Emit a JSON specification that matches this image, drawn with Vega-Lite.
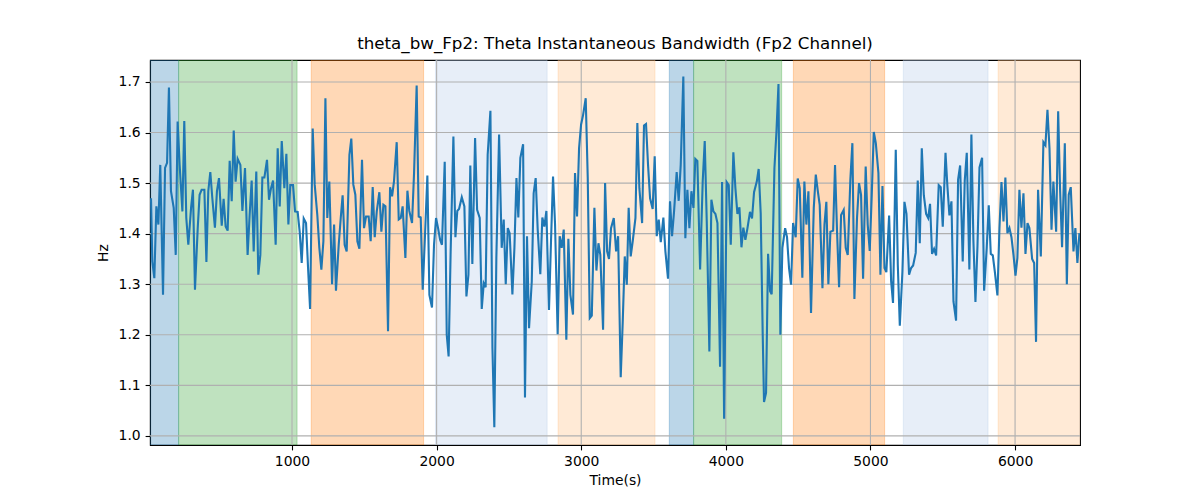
{
  "$schema": "https://vega.github.io/schema/vega-lite/v6.json",
  "description": "theta_bw_Fp2 instantaneous bandwidth with shaded segments",
  "width": 930,
  "height": 385,
  "autosize": {"type": "none"},
  "padding": {"left": 150, "top": 60, "right": 120, "bottom": 55},
  "background": "white",
  "title": {
    "text": "theta_bw_Fp2: Theta Instantaneous Bandwidth (Fp2 Channel)",
    "font": "DejaVu Sans",
    "fontSize": 16.7,
    "fontWeight": "normal",
    "color": "black",
    "offset": 7
  },
  "config": {
    "view": {"stroke": "black", "strokeWidth": 1.1},
    "axis": {
      "labelFont": "DejaVu Sans",
      "labelFontSize": 13.9,
      "labelColor": "black",
      "titleFont": "DejaVu Sans",
      "titleFontSize": 13.9,
      "titleFontWeight": "normal",
      "titleColor": "black",
      "tickColor": "black",
      "tickSize": 4.9,
      "tickWidth": 1.1,
      "labelPadding": 4.9,
      "domainColor": "black",
      "domainWidth": 1.1,
      "grid": false
    }
  },
  "datasets": {
    "segments": [
      {"start": 0, "end": 216, "kind": "A"},
      {"start": 216, "end": 1035, "kind": "B"},
      {"start": 1133, "end": 1910, "kind": "C"},
      {"start": 1992, "end": 2764, "kind": "D"},
      {"start": 2840, "end": 3510, "kind": "E"},
      {"start": 3609, "end": 3777, "kind": "A"},
      {"start": 3777, "end": 4386, "kind": "B"},
      {"start": 4467, "end": 5098, "kind": "C"},
      {"start": 5227, "end": 5813, "kind": "D"},
      {"start": 5883, "end": 6500, "kind": "E"}
    ],
    "xgrid": [{"v": 1000}, {"v": 2000}, {"v": 3000}, {"v": 4000}, {"v": 5000}, {"v": 6000}],
    "ygrid": [{"v": 1.0}, {"v": 1.1}, {"v": 1.2}, {"v": 1.3}, {"v": 1.4}, {"v": 1.5}, {"v": 1.6}, {"v": 1.7}],
    "bw": [
      {"t": 25, "hz": 1.470}, {"t": 34, "hz": 1.345}, {"t": 48, "hz": 1.312}, {"t": 62, "hz": 1.454},
      {"t": 76, "hz": 1.418}, {"t": 89, "hz": 1.536}, {"t": 108, "hz": 1.279}, {"t": 122, "hz": 1.530},
      {"t": 136, "hz": 1.540}, {"t": 149, "hz": 1.689}, {"t": 163, "hz": 1.484}, {"t": 182, "hz": 1.451},
      {"t": 196, "hz": 1.358}, {"t": 209, "hz": 1.622}, {"t": 223, "hz": 1.536}, {"t": 242, "hz": 1.444},
      {"t": 255, "hz": 1.623}, {"t": 269, "hz": 1.431}, {"t": 283, "hz": 1.378}, {"t": 302, "hz": 1.451},
      {"t": 315, "hz": 1.487}, {"t": 329, "hz": 1.289}, {"t": 348, "hz": 1.411}, {"t": 361, "hz": 1.477},
      {"t": 375, "hz": 1.487}, {"t": 394, "hz": 1.487}, {"t": 408, "hz": 1.344}, {"t": 421, "hz": 1.484},
      {"t": 435, "hz": 1.522}, {"t": 449, "hz": 1.470}, {"t": 467, "hz": 1.412}, {"t": 481, "hz": 1.484},
      {"t": 495, "hz": 1.510}, {"t": 514, "hz": 1.416}, {"t": 527, "hz": 1.469}, {"t": 541, "hz": 1.414},
      {"t": 555, "hz": 1.406}, {"t": 569, "hz": 1.544}, {"t": 583, "hz": 1.464}, {"t": 597, "hz": 1.604},
      {"t": 610, "hz": 1.503}, {"t": 624, "hz": 1.548}, {"t": 643, "hz": 1.536}, {"t": 657, "hz": 1.445},
      {"t": 675, "hz": 1.530}, {"t": 693, "hz": 1.358}, {"t": 707, "hz": 1.437}, {"t": 721, "hz": 1.505},
      {"t": 735, "hz": 1.365}, {"t": 753, "hz": 1.523}, {"t": 767, "hz": 1.319}, {"t": 781, "hz": 1.358},
      {"t": 795, "hz": 1.511}, {"t": 809, "hz": 1.511}, {"t": 827, "hz": 1.546}, {"t": 841, "hz": 1.467},
      {"t": 855, "hz": 1.490}, {"t": 869, "hz": 1.505}, {"t": 887, "hz": 1.378}, {"t": 901, "hz": 1.569},
      {"t": 915, "hz": 1.454}, {"t": 929, "hz": 1.583}, {"t": 947, "hz": 1.490}, {"t": 961, "hz": 1.558},
      {"t": 975, "hz": 1.418}, {"t": 988, "hz": 1.496}, {"t": 1007, "hz": 1.496}, {"t": 1021, "hz": 1.444},
      {"t": 1039, "hz": 1.443}, {"t": 1053, "hz": 1.404}, {"t": 1067, "hz": 1.342}, {"t": 1081, "hz": 1.430},
      {"t": 1097, "hz": 1.421}, {"t": 1111, "hz": 1.332}, {"t": 1125, "hz": 1.251}, {"t": 1143, "hz": 1.608},
      {"t": 1157, "hz": 1.497}, {"t": 1175, "hz": 1.437}, {"t": 1189, "hz": 1.372}, {"t": 1203, "hz": 1.329},
      {"t": 1217, "hz": 1.385}, {"t": 1231, "hz": 1.668}, {"t": 1244, "hz": 1.431}, {"t": 1258, "hz": 1.503},
      {"t": 1277, "hz": 1.300}, {"t": 1291, "hz": 1.418}, {"t": 1304, "hz": 1.287}, {"t": 1323, "hz": 1.378},
      {"t": 1337, "hz": 1.431}, {"t": 1350, "hz": 1.476}, {"t": 1364, "hz": 1.378}, {"t": 1378, "hz": 1.365},
      {"t": 1397, "hz": 1.556}, {"t": 1410, "hz": 1.588}, {"t": 1424, "hz": 1.497}, {"t": 1438, "hz": 1.477},
      {"t": 1452, "hz": 1.385}, {"t": 1466, "hz": 1.370}, {"t": 1484, "hz": 1.546}, {"t": 1498, "hz": 1.411},
      {"t": 1512, "hz": 1.434}, {"t": 1530, "hz": 1.434}, {"t": 1544, "hz": 1.385}, {"t": 1558, "hz": 1.492},
      {"t": 1572, "hz": 1.393}, {"t": 1586, "hz": 1.444}, {"t": 1604, "hz": 1.482}, {"t": 1618, "hz": 1.404},
      {"t": 1632, "hz": 1.457}, {"t": 1646, "hz": 1.454}, {"t": 1664, "hz": 1.207}, {"t": 1678, "hz": 1.492},
      {"t": 1692, "hz": 1.474}, {"t": 1705, "hz": 1.503}, {"t": 1724, "hz": 1.581}, {"t": 1738, "hz": 1.428},
      {"t": 1752, "hz": 1.431}, {"t": 1765, "hz": 1.454}, {"t": 1784, "hz": 1.352}, {"t": 1798, "hz": 1.485},
      {"t": 1811, "hz": 1.445}, {"t": 1830, "hz": 1.421}, {"t": 1844, "hz": 1.520}, {"t": 1862, "hz": 1.693},
      {"t": 1876, "hz": 1.434}, {"t": 1890, "hz": 1.432}, {"t": 1904, "hz": 1.289}, {"t": 1917, "hz": 1.378},
      {"t": 1936, "hz": 1.515}, {"t": 1950, "hz": 1.279}, {"t": 1968, "hz": 1.254}, {"t": 1982, "hz": 1.378},
      {"t": 1996, "hz": 1.431}, {"t": 2010, "hz": 1.411}, {"t": 2024, "hz": 1.388}, {"t": 2037, "hz": 1.378},
      {"t": 2056, "hz": 1.542}, {"t": 2070, "hz": 1.200}, {"t": 2083, "hz": 1.157}, {"t": 2097, "hz": 1.365},
      {"t": 2116, "hz": 1.592}, {"t": 2130, "hz": 1.393}, {"t": 2143, "hz": 1.445}, {"t": 2155, "hz": 1.449},
      {"t": 2174, "hz": 1.472}, {"t": 2192, "hz": 1.454}, {"t": 2206, "hz": 1.276}, {"t": 2220, "hz": 1.319},
      {"t": 2233, "hz": 1.535}, {"t": 2247, "hz": 1.340}, {"t": 2266, "hz": 1.589}, {"t": 2280, "hz": 1.447},
      {"t": 2298, "hz": 1.431}, {"t": 2312, "hz": 1.251}, {"t": 2326, "hz": 1.302}, {"t": 2339, "hz": 1.294},
      {"t": 2353, "hz": 1.556}, {"t": 2372, "hz": 1.643}, {"t": 2386, "hz": 1.174}, {"t": 2399, "hz": 1.017},
      {"t": 2413, "hz": 1.352}, {"t": 2432, "hz": 1.596}, {"t": 2450, "hz": 1.372}, {"t": 2464, "hz": 1.428},
      {"t": 2478, "hz": 1.300}, {"t": 2492, "hz": 1.411}, {"t": 2505, "hz": 1.401}, {"t": 2524, "hz": 1.280},
      {"t": 2538, "hz": 1.372}, {"t": 2552, "hz": 1.510}, {"t": 2565, "hz": 1.432}, {"t": 2579, "hz": 1.550},
      {"t": 2598, "hz": 1.577}, {"t": 2611, "hz": 1.076}, {"t": 2625, "hz": 1.395}, {"t": 2639, "hz": 1.213},
      {"t": 2658, "hz": 1.306}, {"t": 2671, "hz": 1.480}, {"t": 2685, "hz": 1.510}, {"t": 2699, "hz": 1.408},
      {"t": 2717, "hz": 1.320}, {"t": 2731, "hz": 1.432}, {"t": 2745, "hz": 1.414}, {"t": 2759, "hz": 1.445},
      {"t": 2777, "hz": 1.249}, {"t": 2791, "hz": 1.385}, {"t": 2805, "hz": 1.513}, {"t": 2819, "hz": 1.418},
      {"t": 2837, "hz": 1.201}, {"t": 2851, "hz": 1.395}, {"t": 2865, "hz": 1.372}, {"t": 2879, "hz": 1.408},
      {"t": 2897, "hz": 1.190}, {"t": 2911, "hz": 1.390}, {"t": 2925, "hz": 1.279}, {"t": 2943, "hz": 1.240},
      {"t": 2957, "hz": 1.520}, {"t": 2971, "hz": 1.434}, {"t": 2985, "hz": 1.569}, {"t": 2999, "hz": 1.616},
      {"t": 3013, "hz": 1.635}, {"t": 3031, "hz": 1.668}, {"t": 3045, "hz": 1.511}, {"t": 3059, "hz": 1.233},
      {"t": 3073, "hz": 1.238}, {"t": 3091, "hz": 1.451}, {"t": 3105, "hz": 1.327}, {"t": 3119, "hz": 1.381},
      {"t": 3132, "hz": 1.358}, {"t": 3151, "hz": 1.210}, {"t": 3165, "hz": 1.500}, {"t": 3179, "hz": 1.365},
      {"t": 3192, "hz": 1.350}, {"t": 3206, "hz": 1.411}, {"t": 3225, "hz": 1.431}, {"t": 3241, "hz": 1.365},
      {"t": 3255, "hz": 1.395}, {"t": 3273, "hz": 1.116}, {"t": 3287, "hz": 1.226}, {"t": 3301, "hz": 1.355},
      {"t": 3315, "hz": 1.299}, {"t": 3328, "hz": 1.451}, {"t": 3342, "hz": 1.355}, {"t": 3356, "hz": 1.385},
      {"t": 3375, "hz": 1.431}, {"t": 3388, "hz": 1.619}, {"t": 3402, "hz": 1.490}, {"t": 3421, "hz": 1.421},
      {"t": 3434, "hz": 1.614}, {"t": 3448, "hz": 1.617}, {"t": 3462, "hz": 1.536}, {"t": 3476, "hz": 1.470},
      {"t": 3494, "hz": 1.449}, {"t": 3508, "hz": 1.553}, {"t": 3522, "hz": 1.395}, {"t": 3536, "hz": 1.428},
      {"t": 3550, "hz": 1.383}, {"t": 3568, "hz": 1.432}, {"t": 3582, "hz": 1.365}, {"t": 3600, "hz": 1.311},
      {"t": 3614, "hz": 1.464}, {"t": 3628, "hz": 1.395}, {"t": 3642, "hz": 1.444}, {"t": 3660, "hz": 1.522},
      {"t": 3674, "hz": 1.465}, {"t": 3688, "hz": 1.536}, {"t": 3706, "hz": 1.711}, {"t": 3720, "hz": 1.391},
      {"t": 3734, "hz": 1.487}, {"t": 3748, "hz": 1.411}, {"t": 3762, "hz": 1.484}, {"t": 3776, "hz": 1.451},
      {"t": 3789, "hz": 1.548}, {"t": 3803, "hz": 1.544}, {"t": 3822, "hz": 1.329}, {"t": 3840, "hz": 1.503},
      {"t": 3854, "hz": 1.583}, {"t": 3868, "hz": 1.424}, {"t": 3886, "hz": 1.167}, {"t": 3900, "hz": 1.467},
      {"t": 3914, "hz": 1.444}, {"t": 3928, "hz": 1.439}, {"t": 3942, "hz": 1.421}, {"t": 3960, "hz": 1.137},
      {"t": 3974, "hz": 1.502}, {"t": 3988, "hz": 1.034}, {"t": 4006, "hz": 1.502}, {"t": 4020, "hz": 1.496},
      {"t": 4034, "hz": 1.378}, {"t": 4052, "hz": 1.561}, {"t": 4066, "hz": 1.490}, {"t": 4080, "hz": 1.439},
      {"t": 4094, "hz": 1.452}, {"t": 4108, "hz": 1.373}, {"t": 4121, "hz": 1.412}, {"t": 4135, "hz": 1.388},
      {"t": 4149, "hz": 1.410}, {"t": 4167, "hz": 1.443}, {"t": 4181, "hz": 1.430}, {"t": 4195, "hz": 1.482},
      {"t": 4214, "hz": 1.503}, {"t": 4227, "hz": 1.528}, {"t": 4241, "hz": 1.441}, {"t": 4255, "hz": 1.200},
      {"t": 4264, "hz": 1.067}, {"t": 4278, "hz": 1.085}, {"t": 4292, "hz": 1.360}, {"t": 4306, "hz": 1.286},
      {"t": 4317, "hz": 1.280}, {"t": 4336, "hz": 1.530}, {"t": 4350, "hz": 1.602}, {"t": 4364, "hz": 1.696},
      {"t": 4377, "hz": 1.200}, {"t": 4391, "hz": 1.372}, {"t": 4410, "hz": 1.411}, {"t": 4423, "hz": 1.393},
      {"t": 4437, "hz": 1.332}, {"t": 4451, "hz": 1.299}, {"t": 4465, "hz": 1.421}, {"t": 4483, "hz": 1.393},
      {"t": 4497, "hz": 1.509}, {"t": 4511, "hz": 1.490}, {"t": 4529, "hz": 1.313}, {"t": 4543, "hz": 1.503},
      {"t": 4557, "hz": 1.418}, {"t": 4571, "hz": 1.484}, {"t": 4589, "hz": 1.243}, {"t": 4608, "hz": 1.451},
      {"t": 4622, "hz": 1.517}, {"t": 4636, "hz": 1.484}, {"t": 4649, "hz": 1.457}, {"t": 4668, "hz": 1.292},
      {"t": 4682, "hz": 1.418}, {"t": 4695, "hz": 1.463}, {"t": 4709, "hz": 1.300}, {"t": 4723, "hz": 1.404},
      {"t": 4742, "hz": 1.406}, {"t": 4755, "hz": 1.536}, {"t": 4769, "hz": 1.404}, {"t": 4783, "hz": 1.294},
      {"t": 4797, "hz": 1.437}, {"t": 4815, "hz": 1.447}, {"t": 4829, "hz": 1.372}, {"t": 4843, "hz": 1.358},
      {"t": 4861, "hz": 1.507}, {"t": 4875, "hz": 1.579}, {"t": 4889, "hz": 1.271}, {"t": 4907, "hz": 1.431},
      {"t": 4921, "hz": 1.500}, {"t": 4935, "hz": 1.477}, {"t": 4949, "hz": 1.311}, {"t": 4967, "hz": 1.533},
      {"t": 4981, "hz": 1.418}, {"t": 4995, "hz": 1.366}, {"t": 5009, "hz": 1.477}, {"t": 5023, "hz": 1.601},
      {"t": 5037, "hz": 1.579}, {"t": 5055, "hz": 1.520}, {"t": 5069, "hz": 1.319}, {"t": 5083, "hz": 1.494},
      {"t": 5097, "hz": 1.332}, {"t": 5110, "hz": 1.324}, {"t": 5129, "hz": 1.436}, {"t": 5143, "hz": 1.306},
      {"t": 5156, "hz": 1.263}, {"t": 5175, "hz": 1.566}, {"t": 5189, "hz": 1.339}, {"t": 5203, "hz": 1.218},
      {"t": 5221, "hz": 1.325}, {"t": 5235, "hz": 1.463}, {"t": 5249, "hz": 1.439}, {"t": 5267, "hz": 1.319},
      {"t": 5281, "hz": 1.332}, {"t": 5295, "hz": 1.337}, {"t": 5313, "hz": 1.362}, {"t": 5327, "hz": 1.505},
      {"t": 5341, "hz": 1.381}, {"t": 5355, "hz": 1.569}, {"t": 5369, "hz": 1.476}, {"t": 5385, "hz": 1.439},
      {"t": 5399, "hz": 1.431}, {"t": 5412, "hz": 1.459}, {"t": 5426, "hz": 1.360}, {"t": 5440, "hz": 1.370},
      {"t": 5454, "hz": 1.357}, {"t": 5472, "hz": 1.496}, {"t": 5486, "hz": 1.492}, {"t": 5500, "hz": 1.414},
      {"t": 5519, "hz": 1.560}, {"t": 5532, "hz": 1.494}, {"t": 5546, "hz": 1.436}, {"t": 5560, "hz": 1.464},
      {"t": 5574, "hz": 1.266}, {"t": 5592, "hz": 1.228}, {"t": 5606, "hz": 1.507}, {"t": 5620, "hz": 1.535},
      {"t": 5638, "hz": 1.345}, {"t": 5652, "hz": 1.505}, {"t": 5666, "hz": 1.560}, {"t": 5684, "hz": 1.329},
      {"t": 5698, "hz": 1.596}, {"t": 5712, "hz": 1.385}, {"t": 5726, "hz": 1.265}, {"t": 5740, "hz": 1.375},
      {"t": 5754, "hz": 1.531}, {"t": 5772, "hz": 1.550}, {"t": 5786, "hz": 1.287}, {"t": 5804, "hz": 1.372},
      {"t": 5818, "hz": 1.456}, {"t": 5832, "hz": 1.360}, {"t": 5846, "hz": 1.357}, {"t": 5860, "hz": 1.325},
      {"t": 5878, "hz": 1.278}, {"t": 5892, "hz": 1.411}, {"t": 5906, "hz": 1.502}, {"t": 5920, "hz": 1.424},
      {"t": 5933, "hz": 1.511}, {"t": 5947, "hz": 1.401}, {"t": 5961, "hz": 1.411}, {"t": 5975, "hz": 1.393},
      {"t": 5989, "hz": 1.358}, {"t": 6003, "hz": 1.317}, {"t": 6016, "hz": 1.352}, {"t": 6030, "hz": 1.487},
      {"t": 6044, "hz": 1.412}, {"t": 6058, "hz": 1.480}, {"t": 6072, "hz": 1.360}, {"t": 6086, "hz": 1.421},
      {"t": 6099, "hz": 1.411}, {"t": 6118, "hz": 1.350}, {"t": 6132, "hz": 1.342}, {"t": 6145, "hz": 1.186},
      {"t": 6159, "hz": 1.487}, {"t": 6178, "hz": 1.355}, {"t": 6196, "hz": 1.581}, {"t": 6210, "hz": 1.575},
      {"t": 6224, "hz": 1.645}, {"t": 6238, "hz": 1.569}, {"t": 6252, "hz": 1.408}, {"t": 6265, "hz": 1.503},
      {"t": 6284, "hz": 1.404}, {"t": 6298, "hz": 1.642}, {"t": 6311, "hz": 1.490}, {"t": 6325, "hz": 1.373},
      {"t": 6344, "hz": 1.579}, {"t": 6358, "hz": 1.300}, {"t": 6371, "hz": 1.477}, {"t": 6385, "hz": 1.492},
      {"t": 6404, "hz": 1.365}, {"t": 6417, "hz": 1.411}, {"t": 6431, "hz": 1.342}, {"t": 6445, "hz": 1.401}
    ]
  },
  "layer": [
    {
      "data": {"name": "segments"},
      "mark": {"type": "rect", "clip": true, "fillOpacity": 0.3, "strokeOpacity": 0.3, "strokeWidth": 1},
      "encoding": {
        "x": {
          "field": "start",
          "type": "quantitative",
          "scale": {"domain": [18, 6449], "nice": false, "zero": false},
          "axis": {
            "title": "Time(s)",
            "values": [1000, 2000, 3000, 4000, 5000, 6000],
            "format": "d",
            "titlePadding": 5
          }
        },
        "x2": {"field": "end"},
        "fill": {
          "field": "kind",
          "type": "nominal",
          "scale": {
            "domain": ["A", "B", "C", "D", "E"],
            "range": ["#1f77b4", "#2ca02c", "#ff7f0e", "#aec7e8", "#ffbb78"]
          },
          "legend": null
        },
        "stroke": {
          "field": "kind",
          "type": "nominal",
          "scale": {
            "domain": ["A", "B", "C", "D", "E"],
            "range": ["#1f77b4", "#2ca02c", "#ff7f0e", "#aec7e8", "#ffbb78"]
          },
          "legend": null
        }
      }
    },
    {
      "data": {"name": "xgrid"},
      "mark": {"type": "rule", "color": "#b0b0b0", "strokeWidth": 1.1},
      "encoding": {"x": {"field": "v", "type": "quantitative"}}
    },
    {
      "data": {"name": "ygrid"},
      "mark": {"type": "rule", "color": "#b0b0b0", "strokeWidth": 1.1},
      "encoding": {"y": {"field": "v", "type": "quantitative"}}
    },
    {
      "data": {"name": "bw"},
      "mark": {"type": "line", "color": "#1f77b4", "strokeWidth": 2.1, "clip": true},
      "encoding": {
        "x": {"field": "t", "type": "quantitative"},
        "y": {
          "field": "hz",
          "type": "quantitative",
          "scale": {"domain": [0.982, 1.7435], "nice": false, "zero": false},
          "axis": {
            "title": "Hz",
            "values": [1.0, 1.1, 1.2, 1.3, 1.4, 1.5, 1.6, 1.7],
            "format": ".1f",
            "titlePadding": 8
          }
        }
      }
    }
  ]
}
